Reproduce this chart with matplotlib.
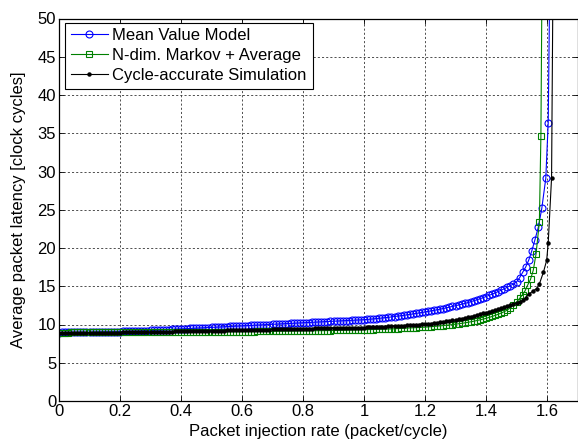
import matplotlib
matplotlib.use("Agg")
import matplotlib.pyplot as plt
import numpy as np

# injection rate grid for the dense part of each curve (packet/cycle)
rate = np.round(np.arange(0, 1.505, 0.01), 2)

# Mean Value Model
mvm = [
    8.95, 8.96, 8.96, 8.97, 8.97, 8.98, 8.98, 8.99, 8.99, 9.00,
    9.00, 9.01, 9.02, 9.02, 9.03, 9.04, 9.05, 9.05, 9.06, 9.07,
    9.08, 9.09, 9.10, 9.11, 9.12, 9.13, 9.15, 9.16, 9.18, 9.20,
    9.22, 9.24, 9.26, 9.28, 9.30, 9.32, 9.34, 9.36, 9.38, 9.40,
    9.42, 9.44, 9.46, 9.48, 9.50, 9.52, 9.54, 9.56, 9.58, 9.60,
    9.62, 9.64, 9.66, 9.68, 9.70, 9.72, 9.74, 9.76, 9.78, 9.80,
    9.82, 9.84, 9.86, 9.88, 9.90, 9.92, 9.94, 9.96, 9.98, 10.00,
    10.02, 10.04, 10.06, 10.08, 10.10, 10.12, 10.14, 10.16, 10.18, 10.20,
    10.22, 10.24, 10.26, 10.28, 10.30, 10.32, 10.34, 10.36, 10.38, 10.40,
    10.42, 10.44, 10.46, 10.48, 10.50, 10.52, 10.54, 10.56, 10.58, 10.60,
    10.63, 10.66, 10.69, 10.73, 10.77, 10.81, 10.85, 10.89, 10.94, 10.99,
    11.04, 11.09, 11.15, 11.20, 11.26, 11.32, 11.38, 11.44, 11.51, 11.57,
    11.64, 11.71, 11.78, 11.85, 11.93, 12.01, 12.09, 12.18, 12.27, 12.36,
    12.45, 12.55, 12.65, 12.75, 12.86, 12.98, 13.10, 13.23, 13.36, 13.50,
    13.65, 13.80, 13.96, 14.13, 14.30, 14.48, 14.67, 14.87, 15.08, 15.30,
    15.55,
]
mvm_tail_x = [1.51, 1.52, 1.53, 1.54, 1.55, 1.56, 1.572, 1.583, 1.596, 1.604, 1.616]
mvm_tail = [16.1, 16.8, 17.5, 18.4, 19.6, 21.0, 22.8, 25.2, 29.1, 36.4, 80.0]

# N-dim. Markov + Average
markov = [
    8.95, 8.95, 8.95, 8.95, 8.96, 8.96, 8.96, 8.96, 8.96, 8.96,
    8.97, 8.97, 8.97, 8.97, 8.97, 8.97, 8.97, 8.98, 8.98, 8.98,
    8.98, 8.98, 8.98, 8.98, 8.99, 8.99, 8.99, 8.99, 8.99, 8.99,
    8.99, 9.00, 9.00, 9.00, 9.00, 9.00, 9.00, 9.00, 9.01, 9.01,
    9.01, 9.01, 9.01, 9.02, 9.02, 9.02, 9.02, 9.03, 9.03, 9.03,
    9.03, 9.04, 9.04, 9.04, 9.05, 9.05, 9.05, 9.06, 9.06, 9.06,
    9.07, 9.07, 9.07, 9.08, 9.08, 9.09, 9.09, 9.09, 9.10, 9.10,
    9.11, 9.11, 9.12, 9.12, 9.13, 9.13, 9.14, 9.14, 9.15, 9.15,
    9.16, 9.16, 9.17, 9.17, 9.18, 9.19, 9.19, 9.20, 9.21, 9.21,
    9.22, 9.23, 9.23, 9.24, 9.25, 9.26, 9.26, 9.27, 9.28, 9.29,
    9.30, 9.31, 9.32, 9.33, 9.35, 9.36, 9.37, 9.39, 9.40, 9.42,
    9.44, 9.46, 9.48, 9.50, 9.52, 9.54, 9.56, 9.58, 9.61, 9.63,
    9.65, 9.68, 9.71, 9.75, 9.78, 9.82, 9.86, 9.90, 9.94, 9.99,
    10.04, 10.09, 10.15, 10.21, 10.28, 10.35, 10.43, 10.51, 10.60, 10.70,
    10.80, 10.92, 11.05, 11.19, 11.34, 11.50, 11.68, 11.90, 12.20, 12.55,
    12.90,
]
markov_tail_x = [1.51, 1.52, 1.528, 1.536, 1.546, 1.555, 1.564, 1.575, 1.580, 1.588]
markov_tail = [13.4, 13.9, 14.4, 15.1, 15.9, 17.1, 19.2, 23.4, 34.7, 80.0]

# Cycle-accurate Simulation
sim = [
    8.85, 8.85, 8.86, 8.86, 8.87, 8.87, 8.88, 8.88, 8.89, 8.89,
    8.90, 8.90, 8.91, 8.91, 8.92, 8.92, 8.93, 8.93, 8.94, 8.94,
    8.95, 8.96, 8.96, 8.97, 8.98, 8.99, 9.00, 9.00, 9.01, 9.02,
    9.03, 9.04, 9.04, 9.05, 9.06, 9.06, 9.07, 9.08, 9.09, 9.09,
    9.10, 9.11, 9.12, 9.13, 9.13, 9.14, 9.15, 9.16, 9.17, 9.17,
    9.18, 9.19, 9.20, 9.21, 9.21, 9.22, 9.23, 9.24, 9.24, 9.25,
    9.25, 9.26, 9.27, 9.28, 9.29, 9.30, 9.31, 9.32, 9.33, 9.34,
    9.35, 9.36, 9.37, 9.38, 9.39, 9.40, 9.41, 9.42, 9.43, 9.44,
    9.45, 9.46, 9.46, 9.47, 9.48, 9.49, 9.50, 9.50, 9.51, 9.52,
    9.52, 9.53, 9.54, 9.55, 9.55, 9.56, 9.57, 9.58, 9.59, 9.59,
    9.60, 9.61, 9.63, 9.64, 9.66, 9.68, 9.70, 9.72, 9.74, 9.77,
    9.80, 9.82, 9.84, 9.86, 9.89, 9.91, 9.94, 9.96, 9.99, 10.02,
    10.05, 10.09, 10.13, 10.18, 10.23, 10.28, 10.34, 10.40, 10.47, 10.53,
    10.60, 10.68, 10.76, 10.84, 10.93, 11.02, 11.12, 11.22, 11.33, 11.44,
    11.55, 11.65, 11.75, 11.86, 11.97, 12.10, 12.23, 12.37, 12.51, 12.65,
    12.80,
]
sim_tail_x = [1.51, 1.52, 1.53, 1.54, 1.555, 1.566, 1.575, 1.588, 1.599, 1.604, 1.615, 1.624]
sim_tail = [12.95, 13.15, 13.5, 13.95, 14.4, 14.7, 15.3, 16.8, 18.4, 20.7, 29.2, 80.0]

xticks = [0, 0.2, 0.4, 0.6, 0.8, 1.0, 1.2, 1.4, 1.6]
xtick_labels = ["0", "0.2", "0.4", "0.6", "0.8", "1", "1.2", "1.4", "1.6"]
yticks = [0, 5, 10, 15, 20, 25, 30, 35, 40, 45, 50]

plt.rcParams["font.family"] = ["Liberation Sans", "DejaVu Sans"]
plt.rcParams["font.size"] = 12

fig = plt.figure(figsize=(5.78, 4.42), dpi=100)
ax = fig.add_axes([59 / 578, 41 / 442, 518.5 / 578, 382.5 / 442])

ax.plot(np.concatenate([rate, mvm_tail_x]), mvm + mvm_tail, "-o", color="blue",
        lw=0.8, ms=5, mfc="none", mew=0.8, label="Mean Value Model")
ax.plot(np.concatenate([rate, markov_tail_x]), markov + markov_tail, "-s", color=(0, 0.5, 0),
        lw=0.8, ms=5, mfc="none", mew=0.8, label="N-dim. Markov + Average")
ax.plot(np.concatenate([rate, sim_tail_x]), sim + sim_tail, "-o", color="black",
        lw=0.8, ms=2.2, label="Cycle-accurate Simulation")

ax.set_xlim(0, 1.7)
ax.set_ylim(0, 50)
ax.set_xticks(xticks)
ax.set_xticklabels(xtick_labels)
ax.set_yticks(yticks)
ax.tick_params(direction="in", top=True, right=True, length=3.5, width=0.6, pad=2)
ax.grid(True, color="0.2", linestyle=(0, (2.5, 2.5)), linewidth=0.6)
ax.set_axisbelow(True)
for s in ax.spines.values():
    s.set_linewidth(0.9)

ax.set_xlabel("Packet injection rate (packet/cycle)", labelpad=4)
ax.set_ylabel("Average packet latency [clock cycles]", labelpad=8)

leg = ax.legend(loc="upper left", bbox_to_anchor=(6 / 518.5, 1 - 4 / 382.5), borderaxespad=0,
                fancybox=False, edgecolor="black", framealpha=1, handlelength=2.2,
                handletextpad=0.3, labelspacing=0.3, borderpad=0.35)
leg.get_frame().set_linewidth(0.8)

fig.savefig("out.png", dpi=100)
